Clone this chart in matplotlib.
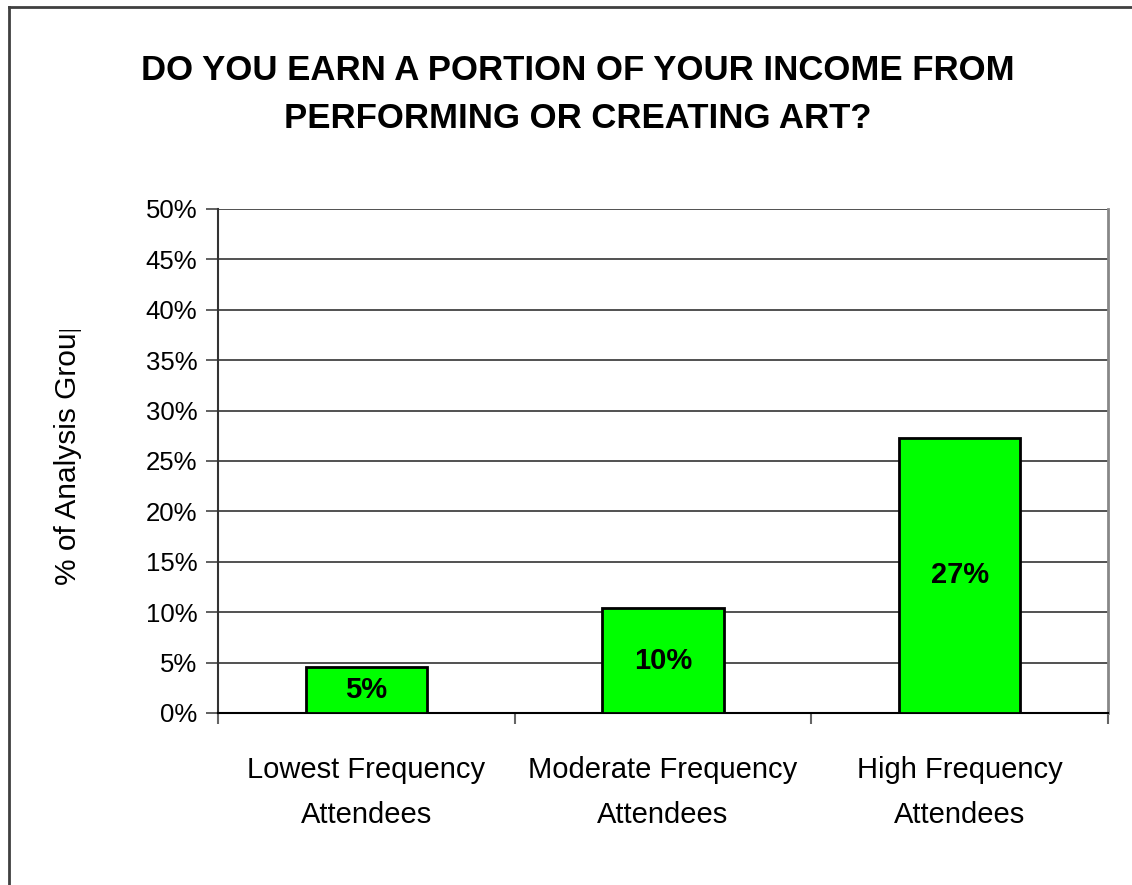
import matplotlib
matplotlib.use("Agg")
import matplotlib.pyplot as plt
from matplotlib.lines import Line2D
from matplotlib.transforms import Bbox

# Survey data
categories = ["Lowest Frequency\nAttendees", "Moderate Frequency\nAttendees", "High Frequency\nAttendees"]
values = [4.6, 10.4, 27.3]
y_ticks = [0, 5, 10, 15, 20, 25, 30, 35, 40, 45, 50]
title = "DO YOU EARN A PORTION OF YOUR INCOME FROM\nPERFORMING OR CREATING ART?"
y_label = "% of Analysis Group"

FONT = "Liberation Sans"

W, H = 1132, 885
fig = plt.figure(figsize=(W / 100, H / 100), dpi=100)
ax = fig.add_axes([218 / W, 172 / H, 890 / W, 504 / H])

x = list(range(len(categories)))
ax.bar(x, values, width=0.41, color="#00ff00", edgecolor="black", linewidth=2, zorder=3)

for xi, v in zip(x, values):
    ax.text(xi, v / 2, f"{v:.0f}%", ha="center", va="center",
            fontsize=21, fontweight="bold", family=FONT, zorder=4)

ax.set_xlim(-0.5, len(categories) - 0.5)
ax.set_ylim(0, 50)
ax.set_yticks(y_ticks)
ax.set_yticklabels([f"{t}%" for t in y_ticks], family=FONT, fontsize=18.5)
ax.yaxis.grid(True, color="#333333", linewidth=1.2, zorder=0)
ax.set_axisbelow(True)

# category ticks sit on the boundaries between groups
ax.set_xticks([i - 0.5 for i in range(len(categories) + 1)])
ax.set_xticklabels([])
ax.set_xticks(x, minor=True)
ax.set_xticklabels(categories, minor=True, family=FONT, fontsize=21, linespacing=1.75)
ax.tick_params(axis="x", which="minor", length=0, pad=31)
ax.tick_params(axis="x", which="major", length=8, width=1.5, color="#666666", direction="out")
ax.tick_params(axis="y", length=9, width=1.2, color="#444444", direction="out", pad=6)

ax.spines["top"].set_visible(False)
ax.spines["right"].set_color("#888888")
ax.spines["right"].set_linewidth(2)
ax.spines["left"].set_color("#333333")
ax.spines["left"].set_linewidth(1.5)
ax.spines["bottom"].set_color("black")
ax.spines["bottom"].set_linewidth(1.5)

fig.text(578 / W, 1 - 94.5 / H, title, ha="center", va="center", fontsize=25,
         fontweight="bold", family=FONT, linespacing=1.55)

yl = fig.text(68 / W, 1 - 450 / H, y_label, ha="center", va="center", rotation=90,
              fontsize=21.5, family=FONT)
yl.set_clip_box(Bbox.from_extents(0, 0, W, H - 330))
yl.set_clip_on(True)

# frame around the chart (top and left edges)
fig.add_artist(Line2D([9 / W, 9 / W], [0, 1 - 7 / H], transform=fig.transFigure,
                      color="#404040", linewidth=2))
fig.add_artist(Line2D([9 / W, 1], [1 - 7 / H, 1 - 7 / H], transform=fig.transFigure,
                      color="#404040", linewidth=2))

fig.savefig("out.png", dpi=100)
